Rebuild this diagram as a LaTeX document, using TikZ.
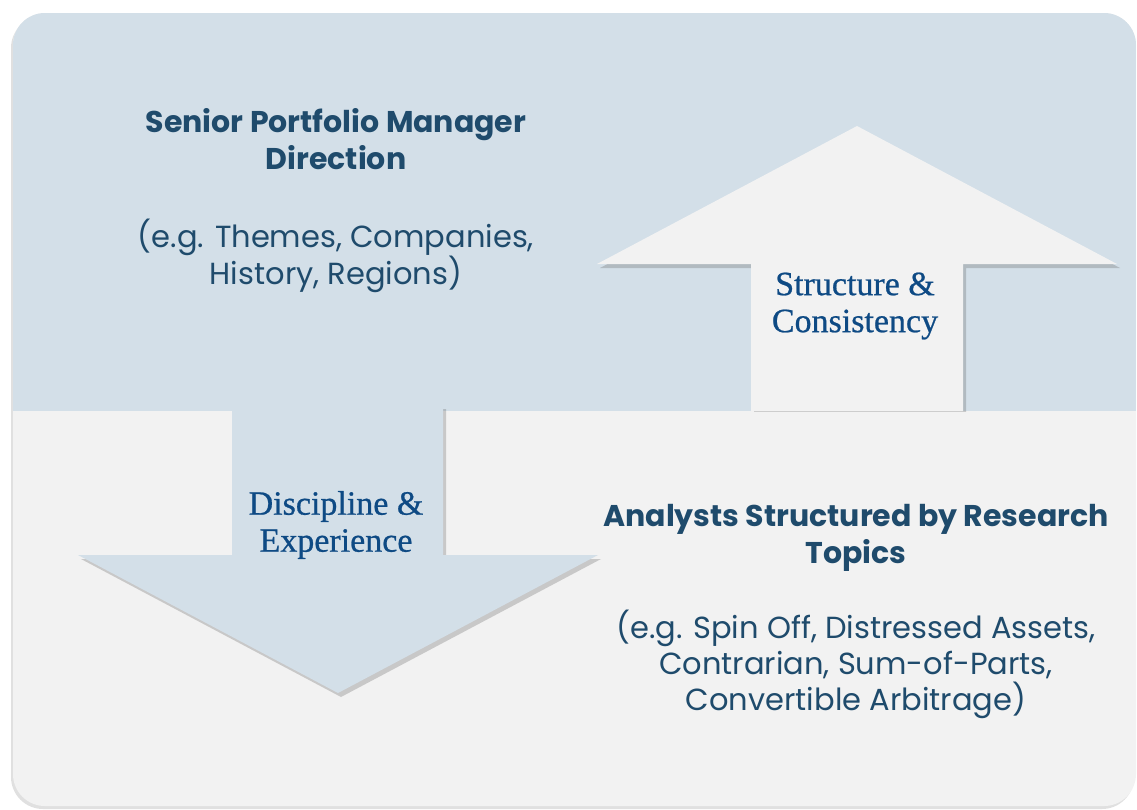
\documentclass[tikz,border=0pt]{standalone}
\usepackage{fontspec}
\setmainfont{Liberation Serif}
\newfontfamily\gothic{Poppins}
\newfontfamily\cambria[FakeBold=0.7]{Liberation Serif}
\usepackage{tikz}
\usetikzlibrary{shadows}
\definecolor{paleblue}{HTML}{D3DFE8}
\definecolor{palegrey}{HTML}{F2F2F2}
\definecolor{inkblue}{HTML}{1F4B6C}
\definecolor{serifblue}{HTML}{0E4A84}
\tikzset{hd/.style={font=\gothic\bfseries\fontsize{30}{37}\selectfont,text=inkblue,align=center,inner sep=0}}
\tikzset{eg/.style={font=\gothic\fontsize{30.5}{36}\selectfont,text=inkblue,align=center,inner sep=0}}
\tikzset{lbl/.style={font=\cambria\fontsize{34}{37}\selectfont,text=serifblue,align=center,inner sep=0}}
\tikzset{sh/.style={drop shadow={shadow xshift=3pt,shadow yshift=-4pt,opacity=.25,fill=black!70}}}
\tikzset{panelsh/.style={drop shadow={shadow xshift=-2pt,shadow yshift=-3pt,opacity=.2,fill=black!60}}}

\begin{document}
\begin{tikzpicture}[x=1pt,y=-1pt]
        \useasboundingbox (0,0) rectangle (1137,809);
        % panel, two bands
        \fill[palegrey,rounded corners=32,panelsh] (13,13) rectangle (1136,806);
        \begin{scope}
          \clip[rounded corners=32] (13,13) rectangle (1136,806);
          \fill[paleblue] (13,13) rectangle (1136,411);
        \end{scope}
        % up arrow
        \begin{scope}
          \clip (13,13) rectangle (1136,411);
          \fill[palegrey,sh] (751,411) -- (751,264) -- (597,264) -- (857,126)
            -- (1117,264) -- (963,264) -- (963,411) -- cycle;
        \end{scope}
        % down arrow
        \fill[paleblue,sh] (232,405) -- (443,405) -- (443,555) -- (598,555)
          -- (338,693) -- (78,555) -- (232,555) -- cycle;
        \node[hd] (pm) at (336,139) {Senior Portfolio Manager\\Direction};
        \node[eg] (pmeg) at (336,256) {(e.g. Themes, Companies,\\History, Regions)};
        \node[lbl] (up) at (855,306) {Structure \&\\Consistency};
        \node[lbl] (down) at (336,525) {Discipline \&\\Experience};
        \node[hd] (an) at (856,538) {Analysts Structured by Research\\Topics};
        \node[eg] (aneg) at (856,664) {(e.g. Spin Off, Distressed Assets,\\Contrarian, Sum-of-Parts,\\Convertible Arbitrage)};
      \end{tikzpicture}
\end{document}
